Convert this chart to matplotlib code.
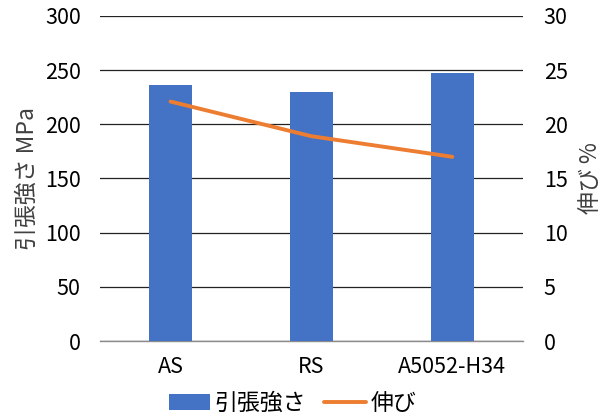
import matplotlib.pyplot as plt
import numpy as np

plt.rcParams['font.family'] = ['Noto Sans CJK JP', 'DejaVu Sans']

# data
categories = ["AS", "RS", "A5052-H34"]
strength = [236.5, 229.5, 247.5]   # 引張強さ MPa
elongation = [22.1, 18.9, 17.0]   # 伸び %

BLUE = "#4472C4"
ORANGE = "#ED7D31"
FS = 15.5

fig = plt.figure(figsize=(6.03, 4.19), dpi=100)
ax = fig.add_axes([0.166, 0.186, 0.701, 0.776])
x = np.arange(len(categories))

bars = ax.bar(x, strength, width=0.31, color=BLUE, zorder=3, label="引張強さ")
ax.set_xlim(-0.5, 2.5)
ax.set_ylim(0, 300)
ax.set_yticks(np.arange(0, 301, 50))
ax.grid(axis='y', color='#222222', lw=0.9, zorder=0)
for s in ['top', 'right', 'left']:
    ax.spines[s].set_visible(False)
ax.spines['bottom'].set_color('#8c8c8c')
ax.spines['bottom'].set_linewidth(1.0)
ax.set_xticks(x)
ax.set_xticklabels(categories, fontsize=FS)
ax.tick_params(axis='y', length=0, labelsize=FS, pad=14)
ax.tick_params(axis='x', length=0, labelsize=FS, pad=11)
ax.set_ylabel("引張強さ MPa", fontsize=16.5, color='#404040', labelpad=4)

ax2 = ax.twinx()
line, = ax2.plot(x, elongation, color=ORANGE, lw=2.8, zorder=4,
                 solid_capstyle='round', label="伸び")
ax2.set_ylim(0, 30)
ax2.set_yticks(np.arange(0, 31, 5))
for s in ax2.spines.values():
    s.set_visible(False)
ax2.tick_params(axis='y', length=0, labelsize=FS, pad=15)
ax2.set_ylabel("伸び %", fontsize=16.5, color='#404040', rotation=90, labelpad=8)

fig.legend([bars, line], ["引張強さ", "伸び"], loc='lower center',
           bbox_to_anchor=(0.485, -0.04), ncol=2, frameon=False,
           fontsize=16.5, handlelength=1.8, handletextpad=0.2, columnspacing=0.8)

fig.savefig("out.png", dpi=100)
